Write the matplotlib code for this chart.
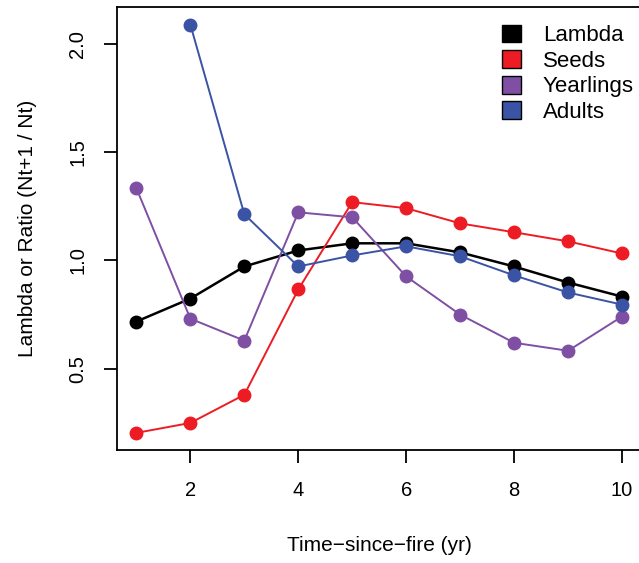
import matplotlib.pyplot as plt
from matplotlib.patches import Patch

plt.rcParams["font.family"] = ["Liberation Sans", "DejaVu Sans"]

years = [1, 2, 3, 4, 5, 6, 7, 8, 9, 10]
lambda_vals = [0.718, 0.824, 0.972, 1.046, 1.079, 1.079, 1.037, 0.972, 0.898, 0.833]
seeds = [0.204, 0.250, 0.380, 0.866, 1.269, 1.241, 1.171, 1.130, 1.088, 1.032]
yearlings = [1.333, 0.731, 0.630, 1.222, 1.199, 0.926, 0.750, 0.620, 0.583, 0.741]
adult_years = [2, 3, 4, 5, 6, 7, 8, 9, 10]
adults = [2.088, 1.213, 0.972, 1.023, 1.065, 1.019, 0.931, 0.852, 0.796]

series_names = ["Lambda", "Seeds", "Yearlings", "Adults"]
colors = ["#000000", "#ED1C24", "#7E4FA3", "#3A53A4"]

fig = plt.figure(figsize=(6.39, 5.63), dpi=100)
ax = fig.add_axes([0.1831, 0.2007, 0.8207, 0.787])

ax.plot(years, lambda_vals, color=colors[0], lw=1.8, marker="o", ms=9)
ax.plot(years, seeds, color=colors[1], lw=1.4, marker="o", ms=9)
ax.plot(years, yearlings, color=colors[2], lw=1.4, marker="o", ms=9)
ax.plot(adult_years, adults, color=colors[3], lw=1.4, marker="o", ms=9)

ax.set_xlim(0.64, 10.36)
ax.set_ylim(0.125, 2.17)
ax.set_xticks([2, 4, 6, 8, 10])
ax.set_yticks([0.5, 1.0, 1.5, 2.0])
ax.set_yticklabels(["0.5", "1.0", "1.5", "2.0"], rotation=90, va="center")
ax.tick_params(direction="out", length=9.5, width=1.3, labelsize=14.5)
ax.tick_params(axis="x", pad=13)
ax.tick_params(axis="y", pad=12)
for sp in ax.spines.values():
    sp.set_linewidth(1.3)

ax.set_xlabel("Time\u2212since\u2212fire (yr)", fontsize=15, va="center")
ax.set_ylabel("Lambda or Ratio (Nt+1 / Nt)", fontsize=15, va="center")
ax.xaxis.set_label_coords(0.5, -0.2144)
ax.yaxis.set_label_coords(-0.170, 0.5)

handles = [Patch(facecolor=c, edgecolor="black", lw=1.0) for c in colors]
ax.legend(handles, series_names, loc="upper left", bbox_to_anchor=(0.70, 1.0),
          frameon=False, fontsize=16, handlelength=0.85, handleheight=0.85,
          handletextpad=1.0, labelspacing=0.18, borderpad=0.3)

fig.savefig("out.png", dpi=100)
